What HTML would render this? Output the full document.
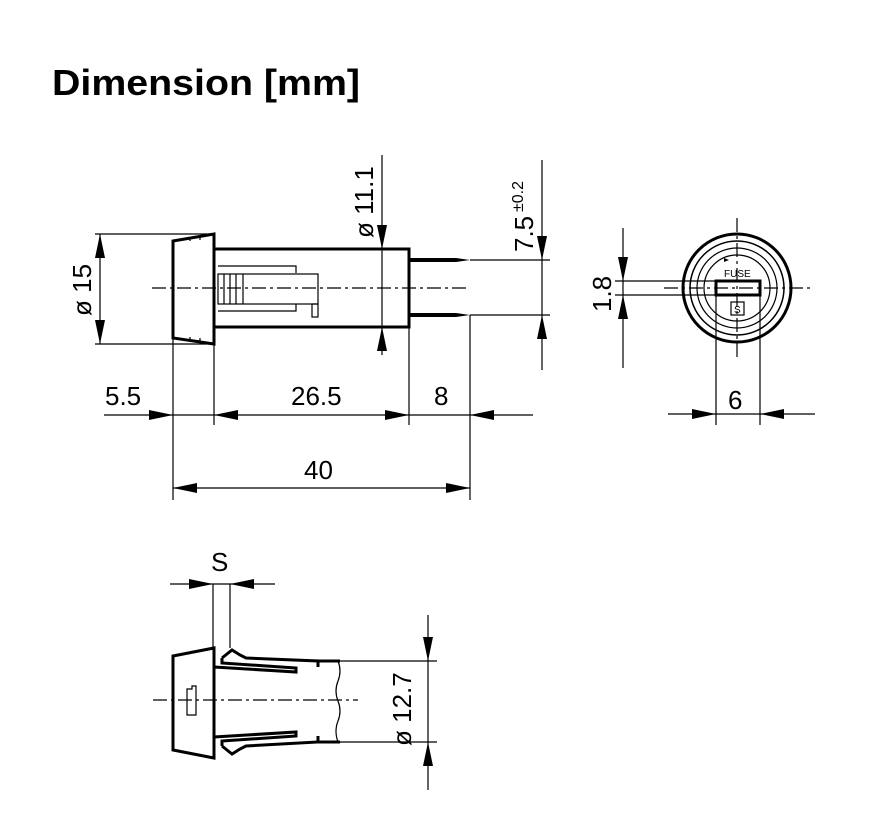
<!DOCTYPE html>
<html><head><meta charset="utf-8"><style>
html,body{margin:0;padding:0;background:#fff;}
svg{display:block;}
text{font-family:"Liberation Sans",Arial,sans-serif;fill:#000;}
</style></head><body>
<svg width="891" height="829" viewBox="0 0 891 829" xmlns="http://www.w3.org/2000/svg">
<text x="52" y="95" font-size="36" font-weight="bold" textLength="308" lengthAdjust="spacingAndGlyphs">Dimension [mm]</text>

<g stroke="#000" fill="none" stroke-width="1.2">
<line x1="95" y1="234" x2="214" y2="234"/>
<line x1="95" y1="344" x2="214" y2="344"/>
<line x1="100" y1="234" x2="100" y2="344"/>
<line x1="382" y1="155" x2="382" y2="355"/>
<line x1="542" y1="160" x2="542" y2="370"/>
<line x1="470" y1="260" x2="550" y2="260"/>
<line x1="470" y1="315" x2="550" y2="315"/>
<line x1="173" y1="338" x2="173" y2="500"/>
<line x1="214" y1="344" x2="214" y2="425"/>
<line x1="409" y1="327" x2="409" y2="425"/>
<line x1="470" y1="315" x2="470" y2="500"/>
<line x1="104" y1="415" x2="533" y2="415"/>
<line x1="173" y1="488" x2="470" y2="488"/>
<line x1="152" y1="288" x2="470" y2="288" stroke-dasharray="14,4,3,4"/>
<polyline points="218,266 296,266 296,273"/>
<polyline points="218,311 296,311 296,304"/>
<rect x="218" y="274" width="100" height="30"/>
<rect x="312" y="304" width="6" height="13"/>
<line x1="224" y1="274" x2="224" y2="304"/><line x1="230" y1="274" x2="230" y2="304"/><line x1="236" y1="274" x2="236" y2="304"/><line x1="243" y1="274" x2="243" y2="304"/>
<polyline points="190,241 190,238 200,237 200,240"/>
<polyline points="190,337 190,340 200,341 200,338"/>
<line x1="615" y1="281" x2="716" y2="281"/>
<line x1="615" y1="295" x2="716" y2="295"/>
<line x1="623" y1="228" x2="623" y2="368"/>
<line x1="716" y1="288" x2="716" y2="425"/>
<line x1="760" y1="288" x2="760" y2="425"/>
<line x1="668" y1="414" x2="815" y2="414"/>
<line x1="664" y1="288" x2="810" y2="288" stroke-dasharray="14,4,3,4"/>
<line x1="737" y1="218" x2="737" y2="358" stroke-dasharray="14,4,3,4"/>
<circle cx="737" cy="288" r="47" stroke-width="1.5"/>
<circle cx="737" cy="288" r="40"/>
<circle cx="737" cy="288" r="33"/>
<rect x="731" y="302" width="13" height="13"/>
<line x1="213" y1="584" x2="213" y2="648"/>
<line x1="230" y1="584" x2="230" y2="648"/>
<line x1="170" y1="584" x2="275" y2="584"/>
<line x1="340" y1="661" x2="437" y2="661"/>
<line x1="340" y1="742" x2="437" y2="742"/>
<line x1="428" y1="615" x2="428" y2="790"/>
<line x1="153" y1="700" x2="358" y2="700" stroke-dasharray="14,4,3,4"/>
<path d="M338,661 q4,10 0,20 q-4,10 0,20 q4,10 0,20 q-4,10 0,21"/>
<polyline points="187,705 187,689 192,689 192,686 196,686 196,715 187,715 187,705"/>
</g>

<g stroke="#000" fill="none" stroke-width="3">
<polygon points="173,241 214,234 214,344 173,338"/>
<rect x="214" y="249" width="195" height="78"/>
<rect x="716" y="281" width="44" height="14"/>
<circle cx="737" cy="288" r="54"/>
<polygon points="173,656 214,648 214,758 173,750"/>
<polyline points="222,658 232,650 240,655 246,658 318,661 318,667"/>
<polyline points="222,658 222,663 296,668 296,672 214,667"/>
<polyline points="222,746 232,754 240,749 246,746 318,742 318,736"/>
<polyline points="222,746 222,741 296,736 296,732 214,737"/>
<line x1="318" y1="661" x2="340" y2="661"/>
<line x1="318" y1="742" x2="340" y2="742"/>
</g>

<g fill="#000">
<polygon points="409,258 456,258 470,260 456,262 409,262"/>
<polygon points="409,313 456,313 470,315 456,317 409,317"/>
<polygon points="100,234 95,258 105,258"/><polygon points="100,344 95,320 105,320"/>
<polygon points="382,249 377,225 387,225"/><polygon points="382,327 377,351 387,351"/>
<polygon points="542,260 537,236 547,236"/><polygon points="542,315 537,339 547,339"/>
<polygon points="623,281 618,257 628,257"/><polygon points="623,295 618,319 628,319"/>
<polygon points="428,661 423,637 433,637"/><polygon points="428,742 423,766 433,766"/>
<polygon points="173,415 149,410 149,420"/>
<polygon points="214,415 238,410 238,420"/>
<polygon points="409,415 385,410 385,420"/>
<polygon points="470,415 494,410 494,420"/>
<polygon points="173,488 197,483 197,493"/>
<polygon points="470,488 446,483 446,493"/>
<polygon points="716,414 692,409 692,419"/>
<polygon points="760,414 784,409 784,419"/>
<polygon points="213,584 189,579 189,589"/>
<polygon points="230,584 254,579 254,589"/>
<polygon points="729,260 724,258 724,262"/>
</g>

<g font-size="26">
<text x="105" y="405">5.5</text>
<text x="291" y="405">26.5</text>
<text x="434" y="405">8</text>
<text x="304" y="479">40</text>
<text x="728" y="409">6</text>
<text x="211" y="571">S</text>
<text transform="translate(91,316) rotate(-90)">ø 15</text>
<text transform="translate(373,238) rotate(-90)">ø 11.1</text>
<text transform="translate(533,252) rotate(-90)">7.5</text>
<text transform="translate(523,212) rotate(-90)" font-size="16">±0.2</text>
<text transform="translate(611,312) rotate(-90)">1.8</text>
<text transform="translate(411,746) rotate(-90)">ø 12.7</text>
</g>
<text x="724" y="277" font-size="10">FUSE</text>
<text x="734" y="313" font-size="10">S</text>
</svg>
</body></html>
